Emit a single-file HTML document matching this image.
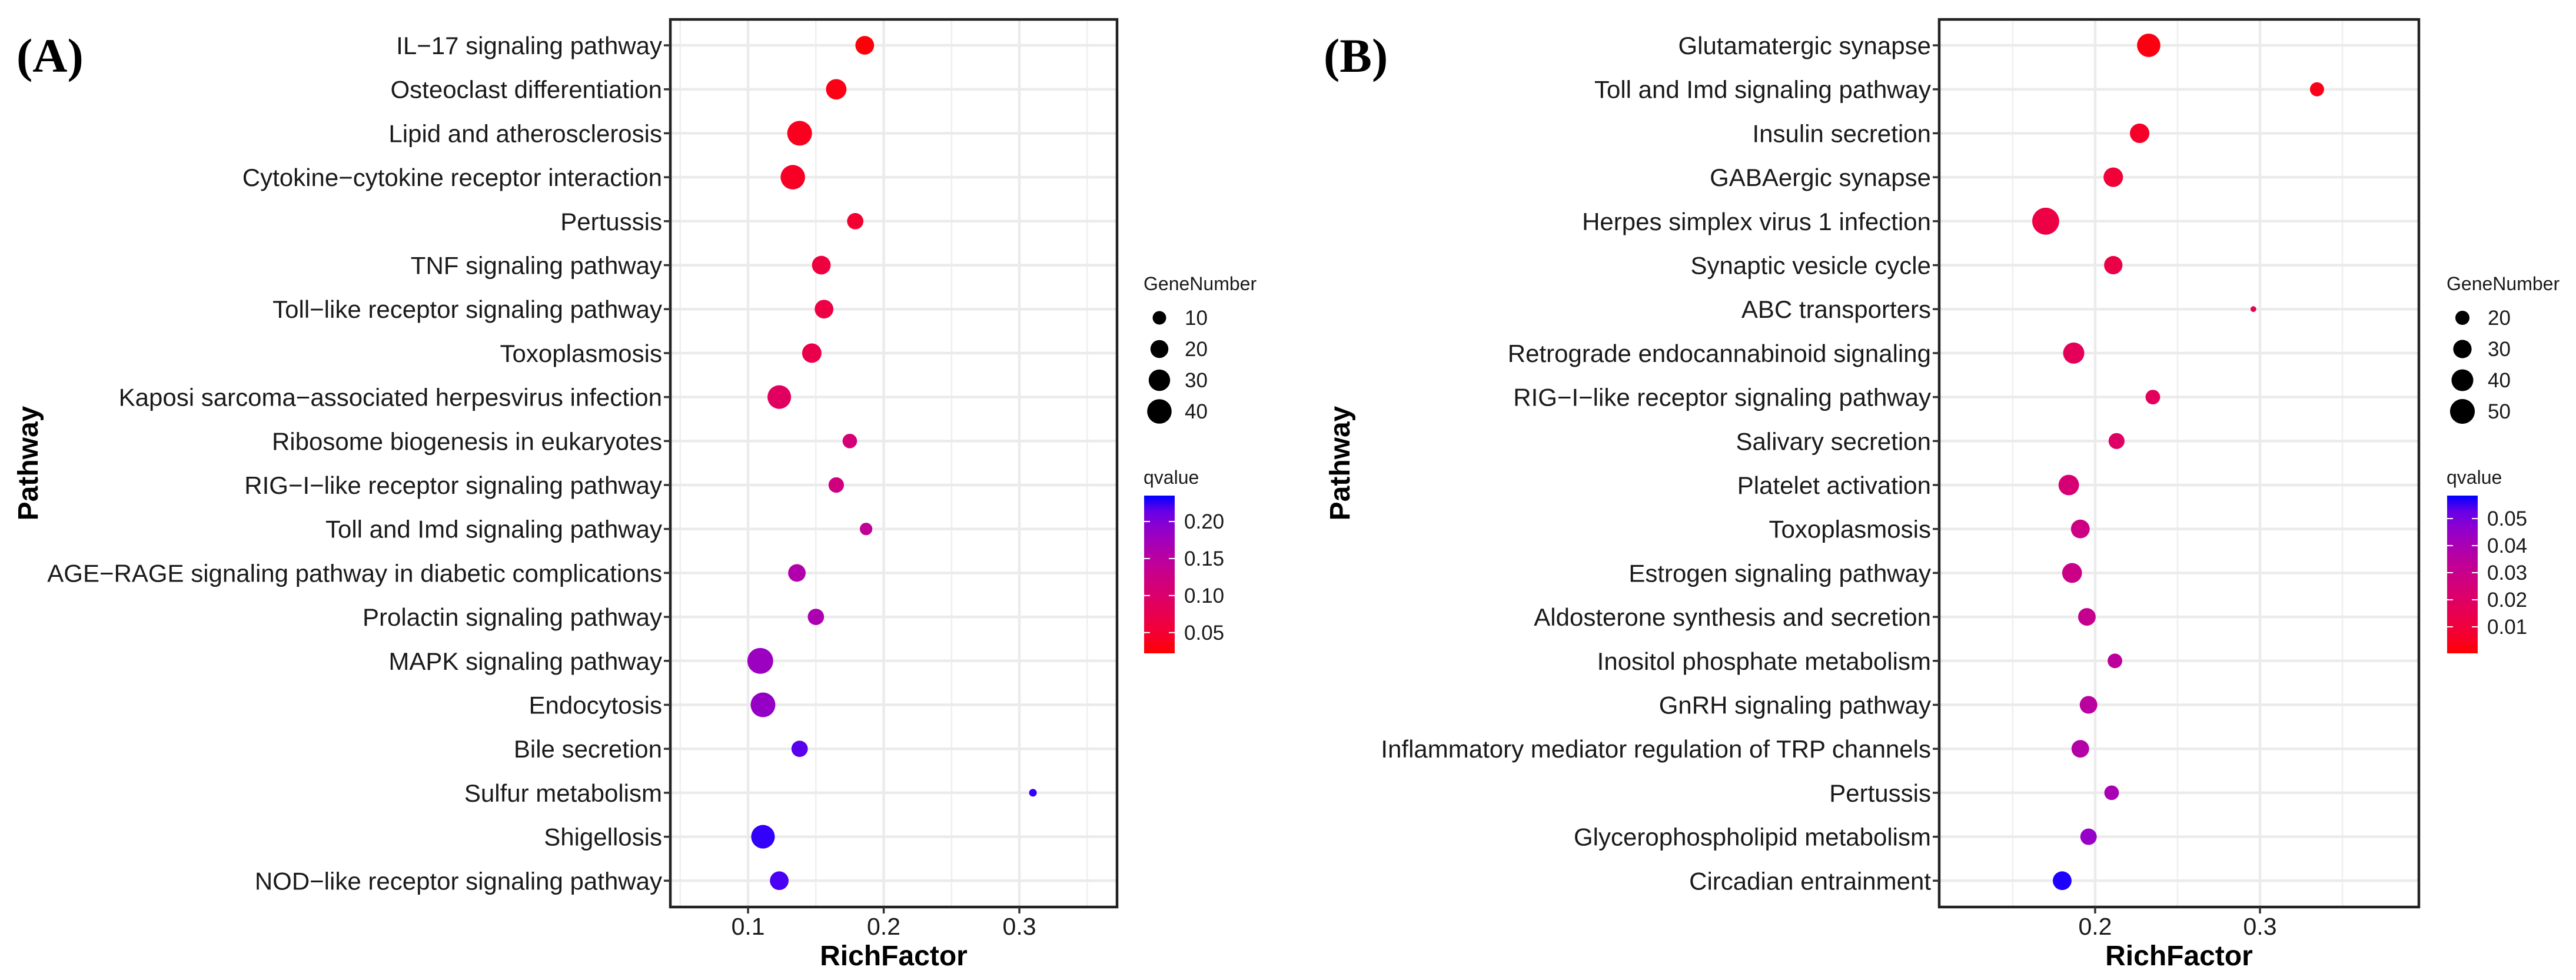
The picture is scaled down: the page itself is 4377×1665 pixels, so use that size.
<!DOCTYPE html>
<html><head><meta charset="utf-8"><style>
html,body{margin:0;padding:0;background:#fff;}
svg{display:block;}
text{font-family:"Liberation Sans",Arial,sans-serif;}
</style></head><body>
<svg id="fig" width="4377" height="1665" viewBox="0 0 4377 1665" xmlns="http://www.w3.org/2000/svg"></svg>
<script>
// Panel A data
const pathwaysA = ["IL\u221217 signaling pathway","Osteoclast differentiation","Lipid and atherosclerosis","Cytokine\u2212cytokine receptor interaction","Pertussis","TNF signaling pathway","Toll\u2212like receptor signaling pathway","Toxoplasmosis","Kaposi sarcoma\u2212associated herpesvirus infection","Ribosome biogenesis in eukaryotes","RIG\u2212I\u2212like receptor signaling pathway","Toll and Imd signaling pathway","AGE\u2212RAGE signaling pathway in diabetic complications","Prolactin signaling pathway","MAPK signaling pathway","Endocytosis","Bile secretion","Sulfur metabolism","Shigellosis","NOD\u2212like receptor signaling pathway"];
const richA = [0.186,0.165,0.138,0.133,0.179,0.154,0.156,0.147,0.123,0.175,0.165,0.187,0.136,0.150,0.109,0.111,0.138,0.310,0.111,0.123];
const genesA = [22,27,41,40,16,22,22,24,37,12,14,8,19,16,45,41,16,1,37,22];
const qA = [0.025,0.03,0.035,0.04,0.05,0.06,0.065,0.07,0.09,0.11,0.12,0.14,0.16,0.165,0.18,0.185,0.22,0.23,0.23,0.225];
const xTicksA = [0.1,0.2,0.3];
const sizeLegendA = [10,20,30,40];
const qTicksA = [0.20,0.15,0.10,0.05];
// Panel B data
const pathwaysB = ["Glutamatergic synapse","Toll and Imd signaling pathway","Insulin secretion","GABAergic synapse","Herpes simplex virus 1 infection","Synaptic vesicle cycle","ABC transporters","Retrograde endocannabinoid signaling","RIG\u2212I\u2212like receptor signaling pathway","Salivary secretion","Platelet activation","Toxoplasmosis","Estrogen signaling pathway","Aldosterone synthesis and secretion","Inositol phosphate metabolism","GnRH signaling pathway","Inflammatory mediator regulation of TRP channels","Pertussis","Glycerophospholipid metabolism","Circadian entrainment"];
const richB = [0.2325,0.3346,0.227,0.211,0.170,0.211,0.296,0.187,0.235,0.213,0.184,0.191,0.186,0.195,0.212,0.196,0.191,0.210,0.196,0.180];
const genesB = [45,20,33,33,58,30,8,38,21,24,36,31,34,28,21,28,28,21,25,31];
const qB = [0.002,0.003,0.006,0.009,0.012,0.013,0.015,0.017,0.018,0.02,0.024,0.028,0.029,0.031,0.034,0.035,0.037,0.04,0.045,0.058];
const xTicksB = [0.2,0.3];
const sizeLegendB = [20,30,40,50];
const qTicksB = [0.05,0.04,0.03,0.02,0.01];

const NS="http://www.w3.org/2000/svg";
const svg=document.getElementById('fig');
function el(tag,attrs,parent,txt){const e=document.createElementNS(NS,tag);for(const k in attrs)e.setAttribute(k,attrs[k]);if(txt!==undefined)e.textContent=txt;(parent||svg).appendChild(e);return e;}
function s2l(c){c/=255;return c<=0.04045?c/12.92:Math.pow((c+0.055)/1.055,2.4);}
function l2s(c){c=c<=0.0031308?12.92*c:1.055*Math.pow(c,1/2.4)-0.055;return Math.max(0,Math.min(255,Math.round(c*255)));}
function toLab(r,g,b){r=s2l(r);g=s2l(g);b=s2l(b);let X=(0.4124*r+0.3576*g+0.1805*b)/0.95047,Y=0.2126*r+0.7152*g+0.0722*b,Z=(0.0193*r+0.1192*g+0.9505*b)/1.08883;const f=t=>t>0.008856?Math.cbrt(t):7.787*t+16/116;return [116*f(Y)-16,500*(f(X)-f(Y)),200*(f(Y)-f(Z))];}
function fromLab(L,a,b){const fy=(L+16)/116,fx=fy+a/500,fz=fy-b/200;const fi=t=>t*t*t>0.008856?t*t*t:(t-16/116)/7.787;const X=fi(fx)*0.95047,Y=fi(fy),Z=fi(fz)*1.08883;const r=3.2406*X-1.5372*Y-0.4986*Z,g=-0.9689*X+1.8758*Y+0.0415*Z,bb=0.0557*X-0.2040*Y+1.0570*Z;return `rgb(${l2s(r)},${l2s(g)},${l2s(bb)})`;}
const LR=toLab(255,0,0),LB=toLab(0,0,255);
function col(t){t=Math.max(0,Math.min(1,t));return fromLab(LR[0]+(LB[0]-LR[0])*t,LR[1]+(LB[1]-LR[1])*t,LR[2]+(LB[2]-LR[2])*t);}

function panel(cfg){
  const g=el('g',{});
  
  
  const {L,R,T,B}=cfg;
  const xs=v=>L+(v-cfg.xmin)/(cfg.xmax-cfg.xmin)*(R-L);
  const row0=77,rowStep=74.7;
  const ys=i=>row0+i*rowStep;
  for(let v=0.05;v<cfg.xmax;v+=0.1){const x=xs(v);if(x>L&&x<R){const ln=el('line',{x1:x,x2:x,y1:T,y2:B,stroke:'#efefef','stroke-width':2.5},g);}}
  cfg.xticks.forEach(v=>{const x=xs(v);const ln=el('line',{x1:x,x2:x,y1:T,y2:B,stroke:'#ebebeb','stroke-width':4.5},g);});
  cfg.paths.forEach((p,i)=>{const ln=el('line',{x1:L,x2:R,y1:ys(i),y2:ys(i),stroke:'#ebebeb','stroke-width':4.5},g);});
  cfg.paths.forEach((p,i)=>{
    const d=Math.sqrt(Math.max(cfg.sa+cfg.sb*cfg.genes[i],81));
    const c=el('circle',{cx:xs(cfg.rich[i]),cy:ys(i),r:d/2,fill:col((cfg.q[i]-cfg.qmin)/(cfg.qmax-cfg.qmin))},g);
    
    
  });
  const bd=el('rect',{x:L,y:T,width:R-L,height:B-T,fill:'none',stroke:'#222','stroke-width':4.5},g);
  
  cfg.paths.forEach((p,i)=>{
    el('line',{x1:L-11,x2:L,y1:ys(i),y2:ys(i),stroke:'#333','stroke-width':3.5},g);
    const t=el('text',{x:L-14,y:ys(i)+15,'font-size':42,'text-anchor':'end',fill:'#1a1a1a'},g,p);
    
  });
  cfg.xticks.forEach(v=>{const x=xs(v);el('line',{x1:x,x2:x,y1:B,y2:B+11,stroke:'#333','stroke-width':3.5},g);
    const t=el('text',{x:x,y:1588,'font-size':41,'text-anchor':'middle',fill:'#1a1a1a'},g,String(v));
    });
  const xt=el('text',{x:(L+R)/2,y:1640,'font-size':48,'font-weight':'bold','text-anchor':'middle'},g,'RichFactor');
  
  const yc=(T+B)/2;
  const yt=el('text',{x:cfg.ytx,y:yc,'font-size':48,'font-weight':'bold','text-anchor':'middle',transform:`rotate(-90 ${cfg.ytx} ${yc})`},g,'Pathway');
  
  const pl=el('text',{x:cfg.plx,y:122,'font-size':82,'font-weight':'bold',style:'font-family:"Liberation Serif",serif'},g,cfg.plabel);
  
  const lx=cfg.lx;
  const st=el('text',{x:lx,y:493,'font-size':32,fill:'#1a1a1a'},g,'GeneNumber');
  
  const ly=[540,593,646,699];
  cfg.sizeLeg.forEach((n,k)=>{
    const d=Math.sqrt(Math.max(cfg.sa+cfg.sb*n,81));
    const c=el('circle',{cx:lx+cfg.dotdx,cy:ly[k],r:d/2,fill:'#000'},g);
    
    const t=el('text',{x:lx+cfg.dotdx+43,y:ly[k]+12,'font-size':35,fill:'#1a1a1a'},g,String(n));
    
  });
  const ct=el('text',{x:lx,y:822,'font-size':32,fill:'#1a1a1a'},g,'qvalue');
  
  const cbT=842,cbB=1110,cbW=52,cbX=lx+1;
  const gid='grad'+cfg.plabel.replace(/\W/g,'');
  const defs=el('defs',{},g);const lg=el('linearGradient',{id:gid,x1:0,y1:1,x2:0,y2:0},defs);
  for(let k=0;k<=10;k++)el('stop',{offset:k/10,'stop-color':col(k/10)},lg);
  const cb=el('rect',{x:cbX,y:cbT,width:cbW,height:cbB-cbT,fill:`url(#${gid})`},g);
  
  const qy=v=>cbB-(v-cfg.qmin)/(cfg.qmax-cfg.qmin)*(cbB-cbT);
  cfg.qticks.forEach(v=>{const y=qy(v);
    el('line',{x1:cbX,x2:cbX+10,y1:y,y2:y,stroke:'#fff','stroke-width':2},g);
    el('line',{x1:cbX+cbW-10,x2:cbX+cbW,y1:y,y2:y,stroke:'#fff','stroke-width':2},g);
    const t=el('text',{x:cbX+cbW+16,y:y+12,'font-size':35,fill:'#1a1a1a'},g,v.toFixed(2));
    });
}
panel({name:'panel-a',L:1139,R:1898,T:33,B:1541,xmin:0.0427,xmax:0.372,paths:pathwaysA,rich:richA,genes:genesA,q:qA,qmin:0.022,qmax:0.235,xticks:xTicksA,sa:129,sb:40,ytx:64,plx:28,plabel:'(A)',lx:1943,dotdx:27,sizeLeg:sizeLegendA,qticks:qTicksA});
panel({name:'panel-b',L:3295,R:4110,T:33,B:1541,xmin:0.1054,xmax:0.3964,paths:pathwaysB,rich:richB,genes:genesB,q:qB,qmin:0.0002,qmax:0.0585,xticks:xTicksB,sa:-224,sb:40,ytx:2293,plx:2249,plabel:'(B)',lx:4157,dotdx:27,sizeLeg:sizeLegendB,qticks:qTicksB});
</script>
</body></html>
